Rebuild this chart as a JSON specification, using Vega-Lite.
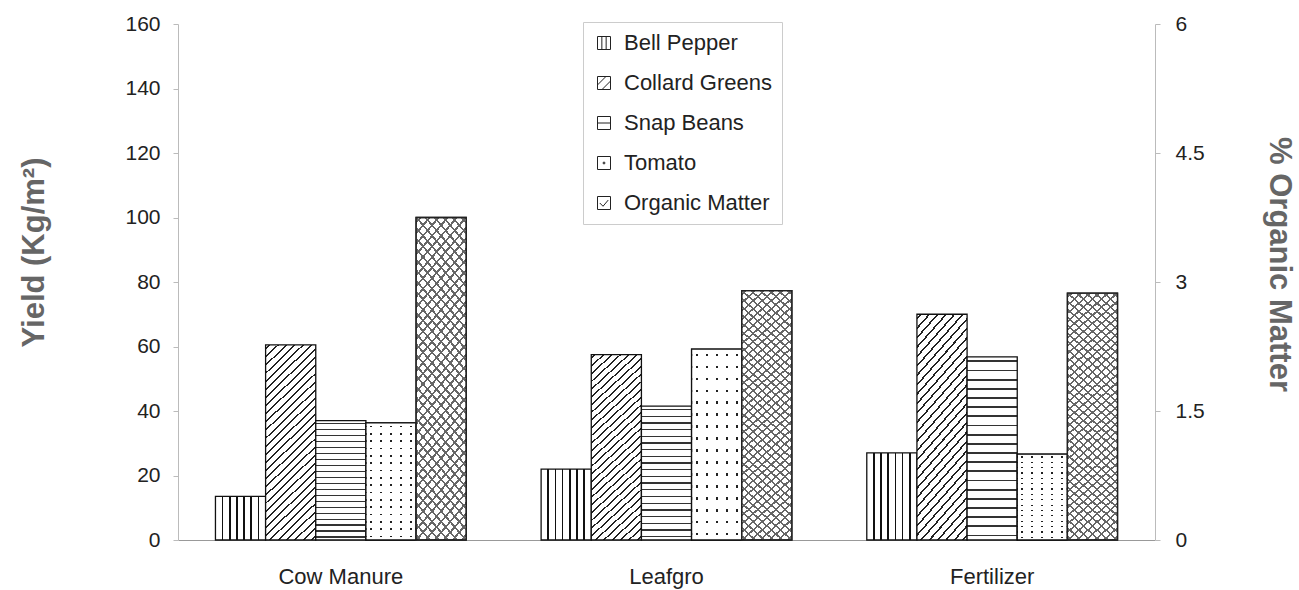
{
  "$schema": "https://vega.github.io/schema/vega-lite/v6.json",
  "width": 977,
  "height": 516,
  "autosize": {"type": "none"},
  "padding": {"left": 178, "top": 24, "right": 144, "bottom": 50},
  "background": "#ffffff",
  "config": {"view": {"stroke": null}, "font": "Liberation Sans"},
  "data": {"values": [
    {"treatment": "Cow Manure", "series": "Bell Pepper", "value": 13.5},
    {"treatment": "Cow Manure", "series": "Collard Greens", "value": 60.5},
    {"treatment": "Cow Manure", "series": "Snap Beans", "value": 37},
    {"treatment": "Cow Manure", "series": "Tomato", "value": 36.3},
    {"treatment": "Cow Manure", "series": "Organic Matter", "value": 3.75},
    {"treatment": "Leafgro", "series": "Bell Pepper", "value": 22},
    {"treatment": "Leafgro", "series": "Collard Greens", "value": 57.5},
    {"treatment": "Leafgro", "series": "Snap Beans", "value": 41.5},
    {"treatment": "Leafgro", "series": "Tomato", "value": 59.2},
    {"treatment": "Leafgro", "series": "Organic Matter", "value": 2.9},
    {"treatment": "Fertilizer", "series": "Bell Pepper", "value": 27},
    {"treatment": "Fertilizer", "series": "Collard Greens", "value": 70},
    {"treatment": "Fertilizer", "series": "Snap Beans", "value": 56.8},
    {"treatment": "Fertilizer", "series": "Tomato", "value": 26.6},
    {"treatment": "Fertilizer", "series": "Organic Matter", "value": 2.87}
  ]},
  "encoding": {
    "x": {"field": "treatment", "type": "nominal", "sort": ["Cow Manure", "Leafgro", "Fertilizer"],
      "scale": {"paddingInner": 0.23, "paddingOuter": 0.115},
      "axis": {"title": null, "labelAngle": 0, "labelFontSize": 22, "labelColor": "#222", "ticks": false, "labelPadding": 26, "domainColor": "#999", "domainWidth": 1}},
    "xOffset": {"field": "series", "type": "nominal",
      "scale": {"domain": ["Bell Pepper", "Collard Greens", "Snap Beans", "Tomato", "Organic Matter"], "paddingInner": 0, "paddingOuter": 0}},
    "fill": {"field": "series", "type": "nominal",
      "scale": {"domain": ["Organic Matter", "Tomato", "Snap Beans", "Collard Greens", "Bell Pepper"],
        "range": ["#aaaaaa", "#f4f4f4", "#cccccc", "#bbbbbb", "#eeeeee"]},
      "legend": null,
      "condition": [
        {"test": "datum.series === 'Bell Pepper'", "value":
          {"gradient": "linear", "x1": 0, "y1": 0, "x2": 1, "y2": 0, "stops": [
            {"offset": 0, "color": "#fff"},
            {"offset": 0.127, "color": "#fff"}, {"offset": 0.127, "color": "#111"}, {"offset": 0.159, "color": "#111"}, {"offset": 0.159, "color": "#fff"},
            {"offset": 0.270, "color": "#fff"}, {"offset": 0.270, "color": "#111"}, {"offset": 0.302, "color": "#111"}, {"offset": 0.302, "color": "#fff"},
            {"offset": 0.413, "color": "#fff"}, {"offset": 0.413, "color": "#111"}, {"offset": 0.445, "color": "#111"}, {"offset": 0.445, "color": "#fff"},
            {"offset": 0.555, "color": "#fff"}, {"offset": 0.555, "color": "#111"}, {"offset": 0.587, "color": "#111"}, {"offset": 0.587, "color": "#fff"},
            {"offset": 0.698, "color": "#fff"}, {"offset": 0.698, "color": "#111"}, {"offset": 0.730, "color": "#111"}, {"offset": 0.730, "color": "#fff"},
            {"offset": 0.841, "color": "#fff"}, {"offset": 0.841, "color": "#111"}, {"offset": 0.873, "color": "#111"}, {"offset": 0.873, "color": "#fff"},
            {"offset": 1, "color": "#fff"}]}},
        {"test": "datum.series === 'Collard Greens'", "value":
          {"gradient": "linear", "x1": 0, "y1": 0, "x2": 0.294, "y2": 1.176, "stops": [
            {"offset": 0, "color": "#fff"},
            {"offset": 0.0127, "color": "#fff"}, {"offset": 0.0127, "color": "#222"}, {"offset": 0.0207, "color": "#222"}, {"offset": 0.0207, "color": "#fff"},
            {"offset": 0.046, "color": "#fff"}, {"offset": 0.046, "color": "#222"}, {"offset": 0.054, "color": "#222"}, {"offset": 0.054, "color": "#fff"},
            {"offset": 0.0793, "color": "#fff"}, {"offset": 0.0793, "color": "#222"}, {"offset": 0.0873, "color": "#222"}, {"offset": 0.0873, "color": "#fff"},
            {"offset": 0.1127, "color": "#fff"}, {"offset": 0.1127, "color": "#222"}, {"offset": 0.1207, "color": "#222"}, {"offset": 0.1207, "color": "#fff"},
            {"offset": 0.146, "color": "#fff"}, {"offset": 0.146, "color": "#222"}, {"offset": 0.154, "color": "#222"}, {"offset": 0.154, "color": "#fff"},
            {"offset": 0.1793, "color": "#fff"}, {"offset": 0.1793, "color": "#222"}, {"offset": 0.1873, "color": "#222"}, {"offset": 0.1873, "color": "#fff"},
            {"offset": 0.2127, "color": "#fff"}, {"offset": 0.2127, "color": "#222"}, {"offset": 0.2207, "color": "#222"}, {"offset": 0.2207, "color": "#fff"},
            {"offset": 0.246, "color": "#fff"}, {"offset": 0.246, "color": "#222"}, {"offset": 0.254, "color": "#222"}, {"offset": 0.254, "color": "#fff"},
            {"offset": 0.2793, "color": "#fff"}, {"offset": 0.2793, "color": "#222"}, {"offset": 0.2873, "color": "#222"}, {"offset": 0.2873, "color": "#fff"},
            {"offset": 0.3127, "color": "#fff"}, {"offset": 0.3127, "color": "#222"}, {"offset": 0.3207, "color": "#222"}, {"offset": 0.3207, "color": "#fff"},
            {"offset": 0.346, "color": "#fff"}, {"offset": 0.346, "color": "#222"}, {"offset": 0.354, "color": "#222"}, {"offset": 0.354, "color": "#fff"},
            {"offset": 0.3793, "color": "#fff"}, {"offset": 0.3793, "color": "#222"}, {"offset": 0.3873, "color": "#222"}, {"offset": 0.3873, "color": "#fff"},
            {"offset": 0.4127, "color": "#fff"}, {"offset": 0.4127, "color": "#222"}, {"offset": 0.4207, "color": "#222"}, {"offset": 0.4207, "color": "#fff"},
            {"offset": 0.446, "color": "#fff"}, {"offset": 0.446, "color": "#222"}, {"offset": 0.454, "color": "#222"}, {"offset": 0.454, "color": "#fff"},
            {"offset": 0.4793, "color": "#fff"}, {"offset": 0.4793, "color": "#222"}, {"offset": 0.4873, "color": "#222"}, {"offset": 0.4873, "color": "#fff"},
            {"offset": 0.5127, "color": "#fff"}, {"offset": 0.5127, "color": "#222"}, {"offset": 0.5207, "color": "#222"}, {"offset": 0.5207, "color": "#fff"},
            {"offset": 0.546, "color": "#fff"}, {"offset": 0.546, "color": "#222"}, {"offset": 0.554, "color": "#222"}, {"offset": 0.554, "color": "#fff"},
            {"offset": 0.5793, "color": "#fff"}, {"offset": 0.5793, "color": "#222"}, {"offset": 0.5873, "color": "#222"}, {"offset": 0.5873, "color": "#fff"},
            {"offset": 0.6127, "color": "#fff"}, {"offset": 0.6127, "color": "#222"}, {"offset": 0.6207, "color": "#222"}, {"offset": 0.6207, "color": "#fff"},
            {"offset": 0.646, "color": "#fff"}, {"offset": 0.646, "color": "#222"}, {"offset": 0.654, "color": "#222"}, {"offset": 0.654, "color": "#fff"},
            {"offset": 0.6793, "color": "#fff"}, {"offset": 0.6793, "color": "#222"}, {"offset": 0.6873, "color": "#222"}, {"offset": 0.6873, "color": "#fff"},
            {"offset": 0.7127, "color": "#fff"}, {"offset": 0.7127, "color": "#222"}, {"offset": 0.7207, "color": "#222"}, {"offset": 0.7207, "color": "#fff"},
            {"offset": 0.746, "color": "#fff"}, {"offset": 0.746, "color": "#222"}, {"offset": 0.754, "color": "#222"}, {"offset": 0.754, "color": "#fff"},
            {"offset": 0.7793, "color": "#fff"}, {"offset": 0.7793, "color": "#222"}, {"offset": 0.7873, "color": "#222"}, {"offset": 0.7873, "color": "#fff"},
            {"offset": 0.8127, "color": "#fff"}, {"offset": 0.8127, "color": "#222"}, {"offset": 0.8207, "color": "#222"}, {"offset": 0.8207, "color": "#fff"},
            {"offset": 0.846, "color": "#fff"}, {"offset": 0.846, "color": "#222"}, {"offset": 0.854, "color": "#222"}, {"offset": 0.854, "color": "#fff"},
            {"offset": 0.8793, "color": "#fff"}, {"offset": 0.8793, "color": "#222"}, {"offset": 0.8873, "color": "#222"}, {"offset": 0.8873, "color": "#fff"},
            {"offset": 0.9127, "color": "#fff"}, {"offset": 0.9127, "color": "#222"}, {"offset": 0.9207, "color": "#222"}, {"offset": 0.9207, "color": "#fff"},
            {"offset": 0.946, "color": "#fff"}, {"offset": 0.946, "color": "#222"}, {"offset": 0.954, "color": "#222"}, {"offset": 0.954, "color": "#fff"},
            {"offset": 0.9793, "color": "#fff"}, {"offset": 0.9793, "color": "#222"}, {"offset": 0.9873, "color": "#222"}, {"offset": 0.9873, "color": "#fff"},
            {"offset": 1, "color": "#fff"}]}},
        {"test": "datum.series === 'Snap Beans'", "value":
          {"gradient": "linear", "x1": 0, "y1": 0, "x2": 0, "y2": 1, "stops": [
            {"offset": 0, "color": "#fff"},
            {"offset": 0.02, "color": "#fff"}, {"offset": 0.02, "color": "#333"}, {"offset": 0.03, "color": "#333"}, {"offset": 0.03, "color": "#fff"},
            {"offset": 0.07, "color": "#fff"}, {"offset": 0.07, "color": "#333"}, {"offset": 0.08, "color": "#333"}, {"offset": 0.08, "color": "#fff"},
            {"offset": 0.12, "color": "#fff"}, {"offset": 0.12, "color": "#333"}, {"offset": 0.13, "color": "#333"}, {"offset": 0.13, "color": "#fff"},
            {"offset": 0.17, "color": "#fff"}, {"offset": 0.17, "color": "#333"}, {"offset": 0.18, "color": "#333"}, {"offset": 0.18, "color": "#fff"},
            {"offset": 0.22, "color": "#fff"}, {"offset": 0.22, "color": "#333"}, {"offset": 0.23, "color": "#333"}, {"offset": 0.23, "color": "#fff"},
            {"offset": 0.27, "color": "#fff"}, {"offset": 0.27, "color": "#333"}, {"offset": 0.28, "color": "#333"}, {"offset": 0.28, "color": "#fff"},
            {"offset": 0.32, "color": "#fff"}, {"offset": 0.32, "color": "#333"}, {"offset": 0.33, "color": "#333"}, {"offset": 0.33, "color": "#fff"},
            {"offset": 0.37, "color": "#fff"}, {"offset": 0.37, "color": "#333"}, {"offset": 0.38, "color": "#333"}, {"offset": 0.38, "color": "#fff"},
            {"offset": 0.42, "color": "#fff"}, {"offset": 0.42, "color": "#333"}, {"offset": 0.43, "color": "#333"}, {"offset": 0.43, "color": "#fff"},
            {"offset": 0.47, "color": "#fff"}, {"offset": 0.47, "color": "#333"}, {"offset": 0.48, "color": "#333"}, {"offset": 0.48, "color": "#fff"},
            {"offset": 0.52, "color": "#fff"}, {"offset": 0.52, "color": "#333"}, {"offset": 0.53, "color": "#333"}, {"offset": 0.53, "color": "#fff"},
            {"offset": 0.57, "color": "#fff"}, {"offset": 0.57, "color": "#333"}, {"offset": 0.58, "color": "#333"}, {"offset": 0.58, "color": "#fff"},
            {"offset": 0.62, "color": "#fff"}, {"offset": 0.62, "color": "#333"}, {"offset": 0.63, "color": "#333"}, {"offset": 0.63, "color": "#fff"},
            {"offset": 0.67, "color": "#fff"}, {"offset": 0.67, "color": "#333"}, {"offset": 0.68, "color": "#333"}, {"offset": 0.68, "color": "#fff"},
            {"offset": 0.72, "color": "#fff"}, {"offset": 0.72, "color": "#333"}, {"offset": 0.73, "color": "#333"}, {"offset": 0.73, "color": "#fff"},
            {"offset": 0.77, "color": "#fff"}, {"offset": 0.77, "color": "#333"}, {"offset": 0.78, "color": "#333"}, {"offset": 0.78, "color": "#fff"},
            {"offset": 0.82, "color": "#fff"}, {"offset": 0.82, "color": "#333"}, {"offset": 0.83, "color": "#333"}, {"offset": 0.83, "color": "#fff"},
            {"offset": 0.87, "color": "#fff"}, {"offset": 0.87, "color": "#333"}, {"offset": 0.88, "color": "#333"}, {"offset": 0.88, "color": "#fff"},
            {"offset": 0.92, "color": "#fff"}, {"offset": 0.92, "color": "#333"}, {"offset": 0.93, "color": "#333"}, {"offset": 0.93, "color": "#fff"},
            {"offset": 0.97, "color": "#fff"}, {"offset": 0.97, "color": "#333"}, {"offset": 0.98, "color": "#333"}, {"offset": 0.98, "color": "#fff"},
            {"offset": 1, "color": "#fff"}]}},
        {"test": "datum.series === 'Tomato'", "value":
          {"gradient": "linear", "x1": 0, "y1": 0, "x2": 1, "y2": 0, "stops": [
            {"offset": 0, "color": "#fff"},
            {"offset": 0.08, "color": "#fff"}, {"offset": 0.08, "color": "#222"}, {"offset": 0.12, "color": "#222"}, {"offset": 0.12, "color": "#fff"},
            {"offset": 0.28, "color": "#fff"}, {"offset": 0.28, "color": "#222"}, {"offset": 0.32, "color": "#222"}, {"offset": 0.32, "color": "#fff"},
            {"offset": 0.48, "color": "#fff"}, {"offset": 0.48, "color": "#222"}, {"offset": 0.52, "color": "#222"}, {"offset": 0.52, "color": "#fff"},
            {"offset": 0.68, "color": "#fff"}, {"offset": 0.68, "color": "#222"}, {"offset": 0.72, "color": "#222"}, {"offset": 0.72, "color": "#fff"},
            {"offset": 0.88, "color": "#fff"}, {"offset": 0.88, "color": "#222"}, {"offset": 0.92, "color": "#222"}, {"offset": 0.92, "color": "#fff"},
            {"offset": 1, "color": "#fff"}]}},
        {"test": "datum.series === 'Organic Matter'", "value":
          {"gradient": "linear", "x1": 0, "y1": 0, "x2": 0.208, "y2": 1.144, "stops": [
            {"offset": 0, "color": "#fff"},
            {"offset": 0.0104, "color": "#fff"}, {"offset": 0.0104, "color": "#666"}, {"offset": 0.0174, "color": "#666"}, {"offset": 0.0174, "color": "#fff"},
            {"offset": 0.0382, "color": "#fff"}, {"offset": 0.0382, "color": "#666"}, {"offset": 0.0452, "color": "#666"}, {"offset": 0.0452, "color": "#fff"},
            {"offset": 0.0659, "color": "#fff"}, {"offset": 0.0659, "color": "#666"}, {"offset": 0.0729, "color": "#666"}, {"offset": 0.0729, "color": "#fff"},
            {"offset": 0.0937, "color": "#fff"}, {"offset": 0.0937, "color": "#666"}, {"offset": 0.1007, "color": "#666"}, {"offset": 0.1007, "color": "#fff"},
            {"offset": 0.1215, "color": "#fff"}, {"offset": 0.1215, "color": "#666"}, {"offset": 0.1285, "color": "#666"}, {"offset": 0.1285, "color": "#fff"},
            {"offset": 0.1493, "color": "#fff"}, {"offset": 0.1493, "color": "#666"}, {"offset": 0.1563, "color": "#666"}, {"offset": 0.1563, "color": "#fff"},
            {"offset": 0.1771, "color": "#fff"}, {"offset": 0.1771, "color": "#666"}, {"offset": 0.1841, "color": "#666"}, {"offset": 0.1841, "color": "#fff"},
            {"offset": 0.2048, "color": "#fff"}, {"offset": 0.2048, "color": "#666"}, {"offset": 0.2118, "color": "#666"}, {"offset": 0.2118, "color": "#fff"},
            {"offset": 0.2326, "color": "#fff"}, {"offset": 0.2326, "color": "#666"}, {"offset": 0.2396, "color": "#666"}, {"offset": 0.2396, "color": "#fff"},
            {"offset": 0.2604, "color": "#fff"}, {"offset": 0.2604, "color": "#666"}, {"offset": 0.2674, "color": "#666"}, {"offset": 0.2674, "color": "#fff"},
            {"offset": 0.2882, "color": "#fff"}, {"offset": 0.2882, "color": "#666"}, {"offset": 0.2952, "color": "#666"}, {"offset": 0.2952, "color": "#fff"},
            {"offset": 0.3159, "color": "#fff"}, {"offset": 0.3159, "color": "#666"}, {"offset": 0.3229, "color": "#666"}, {"offset": 0.3229, "color": "#fff"},
            {"offset": 0.3437, "color": "#fff"}, {"offset": 0.3437, "color": "#666"}, {"offset": 0.3507, "color": "#666"}, {"offset": 0.3507, "color": "#fff"},
            {"offset": 0.3715, "color": "#fff"}, {"offset": 0.3715, "color": "#666"}, {"offset": 0.3785, "color": "#666"}, {"offset": 0.3785, "color": "#fff"},
            {"offset": 0.3993, "color": "#fff"}, {"offset": 0.3993, "color": "#666"}, {"offset": 0.4063, "color": "#666"}, {"offset": 0.4063, "color": "#fff"},
            {"offset": 0.4271, "color": "#fff"}, {"offset": 0.4271, "color": "#666"}, {"offset": 0.4341, "color": "#666"}, {"offset": 0.4341, "color": "#fff"},
            {"offset": 0.4548, "color": "#fff"}, {"offset": 0.4548, "color": "#666"}, {"offset": 0.4618, "color": "#666"}, {"offset": 0.4618, "color": "#fff"},
            {"offset": 0.4826, "color": "#fff"}, {"offset": 0.4826, "color": "#666"}, {"offset": 0.4896, "color": "#666"}, {"offset": 0.4896, "color": "#fff"},
            {"offset": 0.5104, "color": "#fff"}, {"offset": 0.5104, "color": "#666"}, {"offset": 0.5174, "color": "#666"}, {"offset": 0.5174, "color": "#fff"},
            {"offset": 0.5382, "color": "#fff"}, {"offset": 0.5382, "color": "#666"}, {"offset": 0.5452, "color": "#666"}, {"offset": 0.5452, "color": "#fff"},
            {"offset": 0.5659, "color": "#fff"}, {"offset": 0.5659, "color": "#666"}, {"offset": 0.5729, "color": "#666"}, {"offset": 0.5729, "color": "#fff"},
            {"offset": 0.5937, "color": "#fff"}, {"offset": 0.5937, "color": "#666"}, {"offset": 0.6007, "color": "#666"}, {"offset": 0.6007, "color": "#fff"},
            {"offset": 0.6215, "color": "#fff"}, {"offset": 0.6215, "color": "#666"}, {"offset": 0.6285, "color": "#666"}, {"offset": 0.6285, "color": "#fff"},
            {"offset": 0.6493, "color": "#fff"}, {"offset": 0.6493, "color": "#666"}, {"offset": 0.6563, "color": "#666"}, {"offset": 0.6563, "color": "#fff"},
            {"offset": 0.6771, "color": "#fff"}, {"offset": 0.6771, "color": "#666"}, {"offset": 0.6841, "color": "#666"}, {"offset": 0.6841, "color": "#fff"},
            {"offset": 0.7048, "color": "#fff"}, {"offset": 0.7048, "color": "#666"}, {"offset": 0.7118, "color": "#666"}, {"offset": 0.7118, "color": "#fff"},
            {"offset": 0.7326, "color": "#fff"}, {"offset": 0.7326, "color": "#666"}, {"offset": 0.7396, "color": "#666"}, {"offset": 0.7396, "color": "#fff"},
            {"offset": 0.7604, "color": "#fff"}, {"offset": 0.7604, "color": "#666"}, {"offset": 0.7674, "color": "#666"}, {"offset": 0.7674, "color": "#fff"},
            {"offset": 0.7882, "color": "#fff"}, {"offset": 0.7882, "color": "#666"}, {"offset": 0.7952, "color": "#666"}, {"offset": 0.7952, "color": "#fff"},
            {"offset": 0.8159, "color": "#fff"}, {"offset": 0.8159, "color": "#666"}, {"offset": 0.8229, "color": "#666"}, {"offset": 0.8229, "color": "#fff"},
            {"offset": 0.8437, "color": "#fff"}, {"offset": 0.8437, "color": "#666"}, {"offset": 0.8507, "color": "#666"}, {"offset": 0.8507, "color": "#fff"},
            {"offset": 0.8715, "color": "#fff"}, {"offset": 0.8715, "color": "#666"}, {"offset": 0.8785, "color": "#666"}, {"offset": 0.8785, "color": "#fff"},
            {"offset": 0.8993, "color": "#fff"}, {"offset": 0.8993, "color": "#666"}, {"offset": 0.9063, "color": "#666"}, {"offset": 0.9063, "color": "#fff"},
            {"offset": 0.9271, "color": "#fff"}, {"offset": 0.9271, "color": "#666"}, {"offset": 0.9341, "color": "#666"}, {"offset": 0.9341, "color": "#fff"},
            {"offset": 0.9548, "color": "#fff"}, {"offset": 0.9548, "color": "#666"}, {"offset": 0.9618, "color": "#666"}, {"offset": 0.9618, "color": "#fff"},
            {"offset": 0.9826, "color": "#fff"}, {"offset": 0.9826, "color": "#666"}, {"offset": 0.9896, "color": "#666"}, {"offset": 0.9896, "color": "#fff"},
            {"offset": 1, "color": "#fff"}]}}
      ]}
  },
  "layer": [
    {
      "encoding": {
        "y": {"field": "value", "type": "quantitative",
          "scale": {"domain": [0, 160], "nice": false},
          "axis": {"values": [0, 20, 40, 60, 80, 100, 120, 140, 160], "grid": false,
            "domainColor": "#bbb", "tickColor": "#bbb", "tickSize": 5, "labelFontSize": 21, "labelColor": "#222",
            "labelPadding": 13, "title": "Yield (Kg/m²)", "titleFontSize": 31, "titleFontWeight": "bold",
            "titleColor": "#666", "titleX": -144, "titleY": 228, "titleAngle": -90, "titleBaseline": "middle", "titleAlign": "center"}}
      },
      "layer": [
        {"transform": [{"filter": "datum.series !== 'Organic Matter'"}],
          "mark": {"type": "bar", "stroke": "#111", "strokeWidth": 1.3}},
        {"transform": [{"filter": "datum.series === 'Tomato'"}],
          "mark": {"type": "bar", "stroke": "#111", "strokeWidth": 1.3},
          "encoding": {"fill": {"value": {"gradient": "linear", "x1": 0, "y1": 0, "x2": 0, "y2": 1, "stops": [
            {"offset": 0, "color": "#fff"},
            {"offset": 0.0243, "color": "#fff"}, {"offset": 0.0243, "color": "rgba(255,255,255,0)"}, {"offset": 0.0383, "color": "rgba(255,255,255,0)"}, {"offset": 0.0383, "color": "#fff"},
            {"offset": 0.0868, "color": "#fff"}, {"offset": 0.0868, "color": "rgba(255,255,255,0)"}, {"offset": 0.1008, "color": "rgba(255,255,255,0)"}, {"offset": 0.1008, "color": "#fff"},
            {"offset": 0.1493, "color": "#fff"}, {"offset": 0.1493, "color": "rgba(255,255,255,0)"}, {"offset": 0.1633, "color": "rgba(255,255,255,0)"}, {"offset": 0.1633, "color": "#fff"},
            {"offset": 0.2118, "color": "#fff"}, {"offset": 0.2118, "color": "rgba(255,255,255,0)"}, {"offset": 0.2258, "color": "rgba(255,255,255,0)"}, {"offset": 0.2258, "color": "#fff"},
            {"offset": 0.2743, "color": "#fff"}, {"offset": 0.2743, "color": "rgba(255,255,255,0)"}, {"offset": 0.2883, "color": "rgba(255,255,255,0)"}, {"offset": 0.2883, "color": "#fff"},
            {"offset": 0.3368, "color": "#fff"}, {"offset": 0.3368, "color": "rgba(255,255,255,0)"}, {"offset": 0.3508, "color": "rgba(255,255,255,0)"}, {"offset": 0.3508, "color": "#fff"},
            {"offset": 0.3993, "color": "#fff"}, {"offset": 0.3993, "color": "rgba(255,255,255,0)"}, {"offset": 0.4133, "color": "rgba(255,255,255,0)"}, {"offset": 0.4133, "color": "#fff"},
            {"offset": 0.4618, "color": "#fff"}, {"offset": 0.4618, "color": "rgba(255,255,255,0)"}, {"offset": 0.4758, "color": "rgba(255,255,255,0)"}, {"offset": 0.4758, "color": "#fff"},
            {"offset": 0.5243, "color": "#fff"}, {"offset": 0.5243, "color": "rgba(255,255,255,0)"}, {"offset": 0.5383, "color": "rgba(255,255,255,0)"}, {"offset": 0.5383, "color": "#fff"},
            {"offset": 0.5868, "color": "#fff"}, {"offset": 0.5868, "color": "rgba(255,255,255,0)"}, {"offset": 0.6008, "color": "rgba(255,255,255,0)"}, {"offset": 0.6008, "color": "#fff"},
            {"offset": 0.6493, "color": "#fff"}, {"offset": 0.6493, "color": "rgba(255,255,255,0)"}, {"offset": 0.6633, "color": "rgba(255,255,255,0)"}, {"offset": 0.6633, "color": "#fff"},
            {"offset": 0.7118, "color": "#fff"}, {"offset": 0.7118, "color": "rgba(255,255,255,0)"}, {"offset": 0.7258, "color": "rgba(255,255,255,0)"}, {"offset": 0.7258, "color": "#fff"},
            {"offset": 0.7743, "color": "#fff"}, {"offset": 0.7743, "color": "rgba(255,255,255,0)"}, {"offset": 0.7883, "color": "rgba(255,255,255,0)"}, {"offset": 0.7883, "color": "#fff"},
            {"offset": 0.8368, "color": "#fff"}, {"offset": 0.8368, "color": "rgba(255,255,255,0)"}, {"offset": 0.8508, "color": "rgba(255,255,255,0)"}, {"offset": 0.8508, "color": "#fff"},
            {"offset": 0.8993, "color": "#fff"}, {"offset": 0.8993, "color": "rgba(255,255,255,0)"}, {"offset": 0.9133, "color": "rgba(255,255,255,0)"}, {"offset": 0.9133, "color": "#fff"},
            {"offset": 0.9618, "color": "#fff"}, {"offset": 0.9618, "color": "rgba(255,255,255,0)"}, {"offset": 0.9758, "color": "rgba(255,255,255,0)"}, {"offset": 0.9758, "color": "#fff"},
            {"offset": 1, "color": "#fff"}]}}}},
        {"transform": [{"filter": "datum.value < 0"}],
          "mark": {"type": "point", "filled": false, "color": "#222", "stroke": "#222", "strokeWidth": 1, "opacity": 1},
          "encoding": {
            "fill": {"value": "transparent"},
            "shape": {"field": "series", "type": "nominal",
              "scale": {"domain": ["Bell Pepper", "Collard Greens", "Snap Beans", "Tomato", "Organic Matter"],
                "range": [
                  "M-1,-1H1V1H-1ZM-0.33,-1V1M0.33,-1V1",
                  "M-1,-1H1V1H-1ZM-1,0.3L0.3,-1M-0.3,1L1,-0.3",
                  "M-1,-1H1V1H-1ZM-1,0H1",
                  "M-1,-1H1V1H-1ZM-0.12,-0.12H0.12V0.12H-0.12Z",
                  "M-1,-1H1V1H-1ZM-0.65,0L-0.15,0.5L0.65,-0.45"]},
              "legend": {"orient": "none", "legendX": 405, "legendY": -2, "title": null, "padding": 10,
                "strokeColor": "#ccc", "fillColor": "#fff", "symbolSize": 169, "symbolOpacity": 1,
                "symbolStrokeColor": "#222", "symbolStrokeWidth": 1, "labelFontSize": 22, "labelColor": "#222",
                "labelFont": "Liberation Sans", "rowPadding": 18, "labelOffset": 9, "labelLimit": 400}}}}
      ]
    },
    {
      "encoding": {
        "y": {"field": "value", "type": "quantitative",
          "scale": {"domain": [0, 6], "nice": false},
          "axis": {"orient": "right", "values": [0, 1.5, 3, 4.5, 6], "format": ".1~f", "grid": false,
            "domainColor": "#bbb", "tickColor": "#bbb", "tickSize": 5, "labelFontSize": 21, "labelColor": "#222",
            "labelPadding": 15, "title": "% Organic Matter", "titleFontSize": 31, "titleFontWeight": "bold",
            "titleColor": "#666", "titleX": 123, "titleY": 240, "titleAngle": 90, "titleBaseline": "middle", "titleAlign": "center"}}
      },
      "layer": [
        {"transform": [{"filter": "datum.series === 'Organic Matter'"}],
          "mark": {"type": "bar", "stroke": "#222", "strokeWidth": 1.3}},
        {"transform": [{"filter": "datum.series === 'Organic Matter'"}],
          "mark": {"type": "bar", "stroke": "#222", "strokeWidth": 1.3},
          "encoding": {"fill": {"value": {"gradient": "linear", "x1": 0, "y1": 1, "x2": 0.208, "y2": -0.144, "stops": [
            {"offset": 0, "color": "rgba(255,255,255,0)"},
            {"offset": 0.0104, "color": "rgba(255,255,255,0)"}, {"offset": 0.0104, "color": "#666"}, {"offset": 0.0174, "color": "#666"}, {"offset": 0.0174, "color": "rgba(255,255,255,0)"},
            {"offset": 0.0382, "color": "rgba(255,255,255,0)"}, {"offset": 0.0382, "color": "#666"}, {"offset": 0.0452, "color": "#666"}, {"offset": 0.0452, "color": "rgba(255,255,255,0)"},
            {"offset": 0.0659, "color": "rgba(255,255,255,0)"}, {"offset": 0.0659, "color": "#666"}, {"offset": 0.0729, "color": "#666"}, {"offset": 0.0729, "color": "rgba(255,255,255,0)"},
            {"offset": 0.0937, "color": "rgba(255,255,255,0)"}, {"offset": 0.0937, "color": "#666"}, {"offset": 0.1007, "color": "#666"}, {"offset": 0.1007, "color": "rgba(255,255,255,0)"},
            {"offset": 0.1215, "color": "rgba(255,255,255,0)"}, {"offset": 0.1215, "color": "#666"}, {"offset": 0.1285, "color": "#666"}, {"offset": 0.1285, "color": "rgba(255,255,255,0)"},
            {"offset": 0.1493, "color": "rgba(255,255,255,0)"}, {"offset": 0.1493, "color": "#666"}, {"offset": 0.1563, "color": "#666"}, {"offset": 0.1563, "color": "rgba(255,255,255,0)"},
            {"offset": 0.1771, "color": "rgba(255,255,255,0)"}, {"offset": 0.1771, "color": "#666"}, {"offset": 0.1841, "color": "#666"}, {"offset": 0.1841, "color": "rgba(255,255,255,0)"},
            {"offset": 0.2048, "color": "rgba(255,255,255,0)"}, {"offset": 0.2048, "color": "#666"}, {"offset": 0.2118, "color": "#666"}, {"offset": 0.2118, "color": "rgba(255,255,255,0)"},
            {"offset": 0.2326, "color": "rgba(255,255,255,0)"}, {"offset": 0.2326, "color": "#666"}, {"offset": 0.2396, "color": "#666"}, {"offset": 0.2396, "color": "rgba(255,255,255,0)"},
            {"offset": 0.2604, "color": "rgba(255,255,255,0)"}, {"offset": 0.2604, "color": "#666"}, {"offset": 0.2674, "color": "#666"}, {"offset": 0.2674, "color": "rgba(255,255,255,0)"},
            {"offset": 0.2882, "color": "rgba(255,255,255,0)"}, {"offset": 0.2882, "color": "#666"}, {"offset": 0.2952, "color": "#666"}, {"offset": 0.2952, "color": "rgba(255,255,255,0)"},
            {"offset": 0.3159, "color": "rgba(255,255,255,0)"}, {"offset": 0.3159, "color": "#666"}, {"offset": 0.3229, "color": "#666"}, {"offset": 0.3229, "color": "rgba(255,255,255,0)"},
            {"offset": 0.3437, "color": "rgba(255,255,255,0)"}, {"offset": 0.3437, "color": "#666"}, {"offset": 0.3507, "color": "#666"}, {"offset": 0.3507, "color": "rgba(255,255,255,0)"},
            {"offset": 0.3715, "color": "rgba(255,255,255,0)"}, {"offset": 0.3715, "color": "#666"}, {"offset": 0.3785, "color": "#666"}, {"offset": 0.3785, "color": "rgba(255,255,255,0)"},
            {"offset": 0.3993, "color": "rgba(255,255,255,0)"}, {"offset": 0.3993, "color": "#666"}, {"offset": 0.4063, "color": "#666"}, {"offset": 0.4063, "color": "rgba(255,255,255,0)"},
            {"offset": 0.4271, "color": "rgba(255,255,255,0)"}, {"offset": 0.4271, "color": "#666"}, {"offset": 0.4341, "color": "#666"}, {"offset": 0.4341, "color": "rgba(255,255,255,0)"},
            {"offset": 0.4548, "color": "rgba(255,255,255,0)"}, {"offset": 0.4548, "color": "#666"}, {"offset": 0.4618, "color": "#666"}, {"offset": 0.4618, "color": "rgba(255,255,255,0)"},
            {"offset": 0.4826, "color": "rgba(255,255,255,0)"}, {"offset": 0.4826, "color": "#666"}, {"offset": 0.4896, "color": "#666"}, {"offset": 0.4896, "color": "rgba(255,255,255,0)"},
            {"offset": 0.5104, "color": "rgba(255,255,255,0)"}, {"offset": 0.5104, "color": "#666"}, {"offset": 0.5174, "color": "#666"}, {"offset": 0.5174, "color": "rgba(255,255,255,0)"},
            {"offset": 0.5382, "color": "rgba(255,255,255,0)"}, {"offset": 0.5382, "color": "#666"}, {"offset": 0.5452, "color": "#666"}, {"offset": 0.5452, "color": "rgba(255,255,255,0)"},
            {"offset": 0.5659, "color": "rgba(255,255,255,0)"}, {"offset": 0.5659, "color": "#666"}, {"offset": 0.5729, "color": "#666"}, {"offset": 0.5729, "color": "rgba(255,255,255,0)"},
            {"offset": 0.5937, "color": "rgba(255,255,255,0)"}, {"offset": 0.5937, "color": "#666"}, {"offset": 0.6007, "color": "#666"}, {"offset": 0.6007, "color": "rgba(255,255,255,0)"},
            {"offset": 0.6215, "color": "rgba(255,255,255,0)"}, {"offset": 0.6215, "color": "#666"}, {"offset": 0.6285, "color": "#666"}, {"offset": 0.6285, "color": "rgba(255,255,255,0)"},
            {"offset": 0.6493, "color": "rgba(255,255,255,0)"}, {"offset": 0.6493, "color": "#666"}, {"offset": 0.6563, "color": "#666"}, {"offset": 0.6563, "color": "rgba(255,255,255,0)"},
            {"offset": 0.6771, "color": "rgba(255,255,255,0)"}, {"offset": 0.6771, "color": "#666"}, {"offset": 0.6841, "color": "#666"}, {"offset": 0.6841, "color": "rgba(255,255,255,0)"},
            {"offset": 0.7048, "color": "rgba(255,255,255,0)"}, {"offset": 0.7048, "color": "#666"}, {"offset": 0.7118, "color": "#666"}, {"offset": 0.7118, "color": "rgba(255,255,255,0)"},
            {"offset": 0.7326, "color": "rgba(255,255,255,0)"}, {"offset": 0.7326, "color": "#666"}, {"offset": 0.7396, "color": "#666"}, {"offset": 0.7396, "color": "rgba(255,255,255,0)"},
            {"offset": 0.7604, "color": "rgba(255,255,255,0)"}, {"offset": 0.7604, "color": "#666"}, {"offset": 0.7674, "color": "#666"}, {"offset": 0.7674, "color": "rgba(255,255,255,0)"},
            {"offset": 0.7882, "color": "rgba(255,255,255,0)"}, {"offset": 0.7882, "color": "#666"}, {"offset": 0.7952, "color": "#666"}, {"offset": 0.7952, "color": "rgba(255,255,255,0)"},
            {"offset": 0.8159, "color": "rgba(255,255,255,0)"}, {"offset": 0.8159, "color": "#666"}, {"offset": 0.8229, "color": "#666"}, {"offset": 0.8229, "color": "rgba(255,255,255,0)"},
            {"offset": 0.8437, "color": "rgba(255,255,255,0)"}, {"offset": 0.8437, "color": "#666"}, {"offset": 0.8507, "color": "#666"}, {"offset": 0.8507, "color": "rgba(255,255,255,0)"},
            {"offset": 0.8715, "color": "rgba(255,255,255,0)"}, {"offset": 0.8715, "color": "#666"}, {"offset": 0.8785, "color": "#666"}, {"offset": 0.8785, "color": "rgba(255,255,255,0)"},
            {"offset": 0.8993, "color": "rgba(255,255,255,0)"}, {"offset": 0.8993, "color": "#666"}, {"offset": 0.9063, "color": "#666"}, {"offset": 0.9063, "color": "rgba(255,255,255,0)"},
            {"offset": 0.9271, "color": "rgba(255,255,255,0)"}, {"offset": 0.9271, "color": "#666"}, {"offset": 0.9341, "color": "#666"}, {"offset": 0.9341, "color": "rgba(255,255,255,0)"},
            {"offset": 0.9548, "color": "rgba(255,255,255,0)"}, {"offset": 0.9548, "color": "#666"}, {"offset": 0.9618, "color": "#666"}, {"offset": 0.9618, "color": "rgba(255,255,255,0)"},
            {"offset": 0.9826, "color": "rgba(255,255,255,0)"}, {"offset": 0.9826, "color": "#666"}, {"offset": 0.9896, "color": "#666"}, {"offset": 0.9896, "color": "rgba(255,255,255,0)"},
            {"offset": 1, "color": "rgba(255,255,255,0)"}]}}}}
      ]
    }
  ],
  "resolve": {"scale": {"y": "independent"}, "axis": {"y": "independent"}}
}
